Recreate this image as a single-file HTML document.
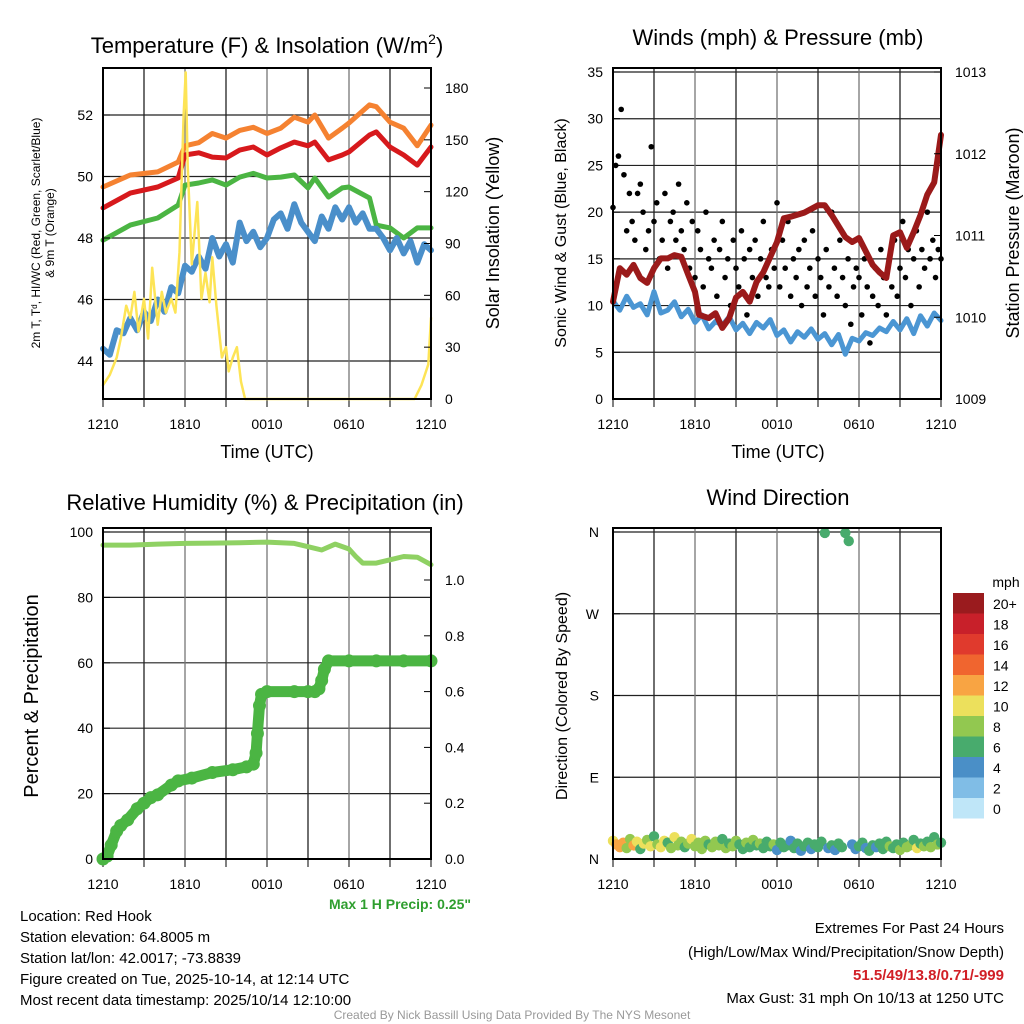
<!DOCTYPE html>
<html><head><meta charset="utf-8">
<style>
html,body{margin:0;padding:0;background:#fff;}
svg{display:block;font-family:"Liberation Sans",sans-serif;}
</style></head>
<body>
<svg id="root" width="1024" height="1024" viewBox="0 0 1024 1024" xmlns="http://www.w3.org/2000/svg"></svg>
<script>
// ---------- DATA ----------
const xTickLabels = ["1210","1810","0010","0610","1210"];
// Panel 1
const smoothTimes = [0,2,4,5.5,6,7,8,9,10,11,12,13,14,15,15.5,16.5,17.5,18,19.5,20,21,22,23,24];
const temp9m = [49.66,50.05,50.15,50.47,51.0,51.1,51.4,51.25,51.5,51.6,51.4,51.57,51.93,51.77,52.0,51.25,51.57,51.74,52.33,52.27,51.77,51.57,51.0,51.67];
const temp2m = [48.98,49.46,49.66,49.95,50.7,50.77,50.63,50.6,50.86,50.96,50.7,50.93,51.12,51.0,51.12,50.54,50.7,50.8,51.35,51.45,50.96,50.7,50.37,50.96];
const dewpt = [47.93,48.42,48.65,49.07,49.72,49.79,49.89,49.72,49.98,50.1,49.95,49.98,50.05,49.63,49.95,49.33,49.63,49.66,49.3,48.42,48.33,48.0,48.33,48.33];
const heatIdx = [44.4,44.2,45.0,44.9,45.4,45.0,45.6,45.3,46.0,45.6,46.4,46.2,47.1,46.9,47.4,47.0,48.0,47.4,47.8,47.2,48.5,47.9,48.2,47.7,48.0,48.6,48.8,48.3,49.1,48.5,48.2,47.9,48.7,48.3,49.0,48.6,49.0,48.5,48.8,48.3,48.3,48.0,47.6,48.0,47.5,47.9,47.2,47.8,47.6];
const solarTimes = [0,0.5,1,1.3,1.7,2,2.3,2.6,3,3.3,3.6,4,4.3,4.6,5,5.3,5.6,5.9,6.05,6.2,6.5,6.9,7.2,7.5,7.8,8,8.3,8.7,9,9.2,9.5,9.8,10.1,10.4,22.8,23.3,23.8,24];
const solar = [8,14,24,35,54,47,62,39,58,35,76,43,62,50,58,50,85,164,189,135,78,114,58,73,56,82,54,24,30,16,24,30,10,0,0,8,20,47];
const tempTicks = [44,46,48,50,52];
const solarTicks = [0,30,60,90,120,150,180];
// Panel 2
const windSpeed = [10.5,9.5,11,9.8,10.2,9.0,11.5,9.2,9.5,10.4,8.8,9.6,8.2,9.0,7.5,8.3,7.9,8.8,7.4,8.1,7.0,8.2,7.6,8.5,6.8,7.4,6.1,7.2,6.6,7.5,6.4,7.0,5.8,6.9,4.8,6.5,6.2,7.1,6.8,7.6,7.2,8.3,7.4,8.6,7.0,8.9,7.8,9.2,8.4];
const gusts = [20.5,25,26,31,24,18,22,19,17,22,23,20,16,18,27,19,21,15,17,22,14,19,20,17,23,18,16,21,14,19,
13,18,16,12,20,15,14,17,11,16,19,13,15,10,17,14,12,18,15,9,16,13,17,11,15,19,13,12,16,14,
21,12,17,14,19,11,15,13,16,10,17,12,14,18,11,15,13,9,16,12,20,14,11,17,13,10,15,8,12,14,
13,9,15,12,6,11,14,10,16,13,9,15,12,17,11,14,19,13,16,10,15,18,12,16,14,20,15,17,13,16,15];
const presTimes = [0,0.5,1,1.5,2,2.5,3,3.5,4,4.5,5,5.5,6,6.3,7,7.5,8,8.5,9,9.5,10,10.5,11,12,12.5,13,14,15,15.5,16,17,17.5,18,19,19.5,20,20.5,21,21.5,22,22.5,23,23.5,24];
const pressure = [1010.19,1010.6,1010.52,1010.64,1010.48,1010.42,1010.6,1010.72,1010.72,1010.76,1010.74,1010.52,1010.31,1010.03,1009.99,1010.05,1009.87,1009.99,1010.24,1010.31,1010.19,1010.43,1010.55,1010.92,1011.21,1011.23,1011.28,1011.37,1011.37,1011.25,1010.98,1010.92,1010.97,1010.64,1010.55,1010.48,1011.0,1011.04,1010.85,1011.04,1011.25,1011.5,1011.65,1012.23];
const windTicks = [0,5,10,15,20,25,30,35];
const presTicks = [1009,1010,1011,1012,1013];
// Panel 3
const rhTimes = [0,2,4,6,8,10,12,14,15,16,17,18,18.5,19,20,21,22,23,24];
const rh = [96,96,96.3,96.5,96.6,96.7,96.9,96.5,95.5,94.5,96.3,94.8,92.5,90.5,90.5,91.5,92.5,92.3,90];
const precipTimes = [0,0.3,0.6,1,1.3,1.8,2.5,3,3.5,4,5,5.5,6.5,8,9.5,10.5,11,11.2,11.3,11.45,11.6,12,14,15,15.5,15.8,16,16.2,16.5,18,20,22,24];
const precip = [0,0.01,0.05,0.1,0.12,0.14,0.18,0.2,0.22,0.23,0.265,0.28,0.29,0.31,0.32,0.33,0.34,0.38,0.45,0.55,0.59,0.6,0.6,0.6,0.6,0.61,0.64,0.68,0.71,0.71,0.71,0.71,0.71];
const rhTicks = [0,20,40,60,80,100];
const precipTicks = [0,0.2,0.4,0.6,0.8,1.0];
// Panel 4
const dirDeg = [20,16,13,18,12,22,15,19,11,17,21,14,25,16,13,20,18,12,24,15,19,13,17,22,14,18,11,20,16,13,
19,15,22,12,17,14,20,16,11,18,13,21,15,17,12,19,14,16,10,18,13,15,20,12,17,9,14,18,11,16,
13,19,359,12,15,10,17,13,359,350,16,11,14,18,12,9,15,13,17,11,19,14,12,16,10,18,13,15,21,12,17,14,19,13,24,16,18];
const dirSpeed = [11,12,13,12,9,8,13,10,7,11,9,10,6,8,11,10,7,9,10,8,9,7,9,10,8,9,8,9,7,8,
8,9,7,8,7,9,8,7,6,8,7,9,7,8,6,7,6,8,5,7,6,7,4,6,7,5,6,7,5,6,
6,7,6,4,6,5,7,6,6,7,5,4,6,7,5,6,7,5,6,7,7,8,6,7,8,7,9,8,7,10,7,8,7,8,6,8,7];
const dirTicks = ["N","E","S","W","N"];
const speedLevels = ["20+","18","16","14","12","10","8","6","4","2","0"];
const speedColors = ["#9a1b1e","#c8202a","#e03a2d","#f0652f","#f8a443","#ece05c","#92c850","#48ab6d","#4a8fc7","#80bde6","#bfe6f8"];

// ---------- HELPERS ----------
const NS = "http://www.w3.org/2000/svg";
const root = document.getElementById("root");
function mk(tag, attrs, name, inter, parent) {
  const el = document.createElementNS(NS, tag);
  for (const k in attrs) el.setAttribute(k, attrs[k]);
  
  
  (parent || root).appendChild(el);
  return el;
}
function txt(x, y, s, size, name, opts) {
  opts = opts || {};
  const t = mk("text", {x: x, y: y, "font-size": size, "text-anchor": opts.anchor || "middle", fill: opts.fill || "#000", "font-weight": opts.weight || "normal"}, name, false);
  if (opts.rot) t.setAttribute("transform", "rotate(" + opts.rot + " " + x + " " + y + ")");
  t.textContent = s;
  return t;
}
function panel(x0, y0, w, h) {
  return {x0, y0, w, h, xs: t => x0 + t / 24 * w};
}
function lin(d0, d1, p0, p1) { return v => p0 + (v - d0) / (d1 - d0) * (p1 - p0); }
function polyline(xsArr, ysArr, color, width, name) {
  let d = "";
  for (let i = 0; i < xsArr.length; i++) d += (i ? "L" : "M") + xsArr[i].toFixed(1) + " " + ysArr[i].toFixed(1);
  return mk("path", {d: d, fill: "none", stroke: color, "stroke-width": width, "stroke-linejoin": "round", "stroke-linecap": "round"}, name, false);
}
function frameAndX(P, name) {
  for (let i = 1; i < 8; i++) {
    const x = P.x0 + i * P.w / 8;
    mk("line", {x1: x, y1: P.y0, x2: x, y2: P.y0 + P.h, stroke: i % 2 ? "#222" : "#777", "stroke-width": 1.3}, name + "-vgrid", false);
  }
  for (let i = 0; i < xTickLabels.length; i++) {
    const x = P.x0 + i * P.w / 4;
    txt(x, P.y0 + P.h + 30, xTickLabels[i], 14, name + "-x-tick-label");
  }
  for (let i = 0; i <= 8; i++) {
    const x = P.x0 + i * P.w / 8;
    mk("line", {x1: x, y1: P.y0 + P.h, x2: x, y2: P.y0 + P.h + 8, stroke: "#000", "stroke-width": 1}, name + "-x-tick", false);
  }
}
function border(P, name) {
  mk("rect", {x: P.x0, y: P.y0, width: P.w, height: P.h, fill: "none", stroke: "#000", "stroke-width": 2}, name + "-frame", false);
}
function hgrid(P, ticks, ys, name) {
  ticks.forEach(v => mk("line", {x1: P.x0, y1: ys(v), x2: P.x0 + P.w, y2: ys(v), stroke: "#222", "stroke-width": 1.2}, name + "-hgrid", false));
}
function yTicks(P, ticks, ys, side, fmt, name) {
  ticks.forEach(v => {
    const y = ys(v);
    if (side === "left") {
      mk("line", {x1: P.x0, y1: y, x2: P.x0 + 7, y2: y, stroke: "#000"}, name + "-tick", false);
      txt(P.x0 - 10, y + 5, fmt(v), 14, name + "-tick-label", {anchor: "end"});
    } else {
      mk("line", {x1: P.x0 + P.w - 7, y1: y, x2: P.x0 + P.w, y2: y, stroke: "#000"}, name + "-tick", false);
      txt(P.x0 + P.w + 14, y + 5, fmt(v), 14, name + "-tick-label", {anchor: "start"});
    }
  });
}

// ---------- PANEL 1 ----------
const P1 = panel(103, 68, 328, 331);
const yT1 = lin(44, 52, 361, 115);
const yS1 = lin(0, 180, 399, 88);
hgrid(P1, tempTicks, yT1, "temp");
frameAndX(P1, "temp");
polyline(smoothTimes.map(P1.xs), temp9m.map(yT1), "#f58231", 5, "temp-9m-orange-line");
polyline(smoothTimes.map(P1.xs), temp2m.map(yT1), "#d7191c", 5, "temp-2m-red-line");
polyline(smoothTimes.map(P1.xs), dewpt.map(yT1), "#4bb543", 5, "dewpoint-green-line");
polyline(heatIdx.map((v, i) => P1.xs(i * 24 / (heatIdx.length - 1))), heatIdx.map(yT1), "#4a8fca", 6, "heat-index-blue-line");
polyline(solarTimes.map(P1.xs), solar.map(yS1), "#fde456", 2.5, "solar-insolation-yellow-line");
border(P1, "temp");
yTicks(P1, tempTicks, yT1, "left", v => String(v), "temp-left");
yTicks(P1, solarTicks, yS1, "right", v => String(v), "solar-right");
const t1 = txt(267, 53, "Temperature (F) & Insolation (W/m", 22, "temp-panel-title");
const sup = document.createElementNS(NS, "tspan"); sup.setAttribute("dy", "-9"); sup.setAttribute("font-size", "14"); sup.textContent = "2"; t1.appendChild(sup);
const cl = document.createElementNS(NS, "tspan"); cl.setAttribute("dy", "9"); cl.textContent = ")"; t1.appendChild(cl);
txt(267, 458, "Time (UTC)", 18, "temp-x-axis-title");
txt(40, 233, "2m T, T\u1D48, HI/WC (Red, Green, Scarlet/Blue)", 12, "temp-y-axis-title", {rot: -90});
txt(54, 233, "& 9m T (Orange)", 12, "temp-y-axis-title-2", {rot: -90});
txt(499, 233, "Solar Insolation (Yellow)", 18, "solar-y-axis-title", {rot: -90});

// ---------- PANEL 2 ----------
const P2 = panel(613, 68, 328, 331);
const yW2 = lin(0, 35, 399, 72);
const yP2 = lin(1009, 1013, 399, 72);
hgrid(P2, windTicks, yW2, "wind");
frameAndX(P2, "wind");
gusts.forEach((v, i) => mk("circle", {cx: P2.xs(i * 24 / (gusts.length - 1)), cy: yW2(v), r: 2.8, fill: "#000"}, "gust-dot", false));
polyline(windSpeed.map((v, i) => P2.xs(i * 24 / (windSpeed.length - 1))), windSpeed.map(yW2), "#4b96d3", 5, "wind-speed-blue-line");
polyline(presTimes.map(P2.xs), pressure.map(yP2), "#9b1a1a", 6, "pressure-maroon-line");
border(P2, "wind");
yTicks(P2, windTicks, yW2, "left", v => String(v), "wind-left");
yTicks(P2, presTicks, yP2, "right", v => String(v), "pressure-right");
txt(778, 45, "Winds (mph) & Pressure (mb)", 22, "wind-panel-title");
txt(778, 458, "Time (UTC)", 18, "wind-x-axis-title");
txt(566, 233, "Sonic Wind & Gust (Blue, Black)", 16, "wind-y-axis-title", {rot: -90});
txt(1019, 233, "Station Pressure (Maroon)", 18, "pressure-y-axis-title", {rot: -90});

// ---------- PANEL 3 ----------
const P3 = panel(103, 528, 328, 331);
const yR3 = lin(0, 100, 859, 532);
const yPr3 = lin(0, 1, 859, 580);
hgrid(P3, rhTicks, yR3, "rh");
frameAndX(P3, "rh");
polyline(rhTimes.map(P3.xs), rh.map(yR3), "#8fd163", 5, "relative-humidity-line");
polyline(precipTimes.map(P3.xs), precip.map(yPr3), "#4bb543", 11, "precip-accum-line");
precipTimes.forEach((t, i) => mk("circle", {cx: P3.xs(t), cy: yPr3(precip[i]), r: 6.5, fill: "#4bb543"}, "precip-dot", false));
border(P3, "rh");
yTicks(P3, rhTicks, yR3, "left", v => String(v), "rh-left");
yTicks(P3, precipTicks, yPr3, "right", v => v.toFixed(1), "precip-right");
txt(265, 510, "Relative Humidity (%) & Precipitation (in)", 22, "rh-panel-title");
txt(38, 696, "Percent & Precipitation", 20, "rh-y-axis-title", {rot: -90});
txt(471, 909, "Max 1 H Precip: 0.25\"", 14, "max-precip-label", {anchor: "end", fill: "#2e9e2e", weight: "bold"});

// ---------- PANEL 4 ----------
const P4 = panel(613, 528, 328, 331);
const yD4 = lin(0, 360, 859, 532);
hgrid(P4, [0, 90, 180, 270, 360], yD4, "dir");
frameAndX(P4, "dir");
function speedColor(s) {
  const idx = Math.min(10, Math.floor(s / 2));
  return speedColors[10 - idx];
}
dirDeg.forEach((d, i) => mk("circle", {cx: P4.xs(i * 24 / (dirDeg.length - 1)), cy: yD4(d), r: 5.2, fill: speedColor(dirSpeed[i])}, "wind-direction-dot", false));
border(P4, "dir");
dirTicks.forEach((s, i) => {
  const y = yD4(i * 90);
  mk("line", {x1: P4.x0, y1: y, x2: P4.x0 + 7, y2: y, stroke: "#000"}, "dir-tick", false);
  txt(P4.x0 - 14, y + 5, s, 14, "dir-tick-label", {anchor: "end"});
});
txt(778, 505, "Wind Direction", 22, "dir-panel-title");
txt(567, 696, "Direction (Colored By Speed)", 16, "dir-y-axis-title", {rot: -90});
// colorbar
txt(1006, 587, "mph", 14, "colorbar-title");
speedLevels.forEach((s, i) => {
  const y = 593 + i * 20.5;
  mk("rect", {x: 953, y: y, width: 31, height: 20.5, fill: speedColors[i]}, "colorbar-box-" + s.replace("+", "plus"), false);
  txt(993, y + 16, s, 14, "colorbar-label", {anchor: "start"});
});

// ---------- FOOTER ----------
["Location: Red Hook", "Station elevation: 64.8005 m", "Station lat/lon: 42.0017; -73.8839", "Figure created on Tue, 2025-10-14, at 12:14 UTC", "Most recent data timestamp: 2025/10/14 12:10:00"].forEach((s, i) => {
  txt(20, 921 + i * 21, s, 15, "station-info-line", {anchor: "start"});
});
txt(1004, 933, "Extremes For Past 24 Hours", 15, "extremes-title", {anchor: "end"});
txt(1004, 957, "(High/Low/Max Wind/Precipitation/Snow Depth)", 15, "extremes-subtitle", {anchor: "end"});
txt(1004, 980, "51.5/49/13.8/0.71/-999", 15, "extremes-values", {anchor: "end", fill: "#d11f26", weight: "bold"});
txt(1004, 1003, "Max Gust: 31 mph On 10/13 at 1250 UTC", 15, "max-gust-label", {anchor: "end"});
txt(512, 1019, "Created By Nick Bassill Using Data Provided By The NYS Mesonet", 12, "credit-line", {fill: "#999"});
</script>
</body></html>
